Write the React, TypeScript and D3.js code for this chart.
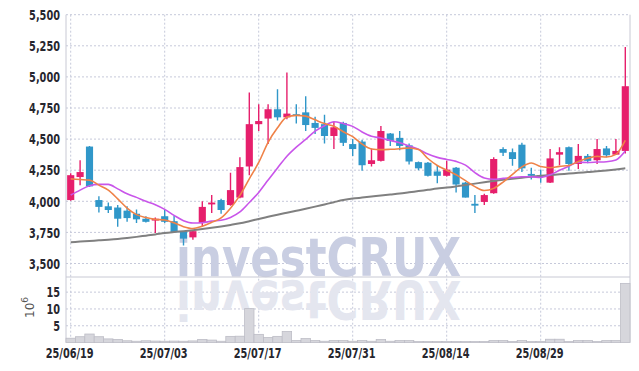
import React from "react"
import * as d3 from "d3"

const dates = [
  "25/06/19", "25/06/20", "25/06/23", "25/06/24", "25/06/25", "25/06/26", "25/06/27", "25/06/30", "25/07/01", "25/07/02",
  "25/07/03", "25/07/04", "25/07/07", "25/07/08", "25/07/09", "25/07/10", "25/07/11", "25/07/14", "25/07/15", "25/07/16",
  "25/07/17", "25/07/18", "25/07/21", "25/07/22", "25/07/23", "25/07/24", "25/07/25", "25/07/28", "25/07/29", "25/07/30",
  "25/07/31", "25/08/01", "25/08/04", "25/08/05", "25/08/06", "25/08/07", "25/08/08", "25/08/11", "25/08/12", "25/08/13",
  "25/08/14", "25/08/18", "25/08/19", "25/08/20", "25/08/21", "25/08/22", "25/08/25", "25/08/26", "25/08/27", "25/08/28",
  "25/08/29", "25/09/01", "25/09/02", "25/09/03", "25/09/04", "25/09/05", "25/09/08", "25/09/09", "25/09/10", "25/09/11"
]

const opens = [
  4010, 4195, 4440, 4010, 3960, 3950, 3925, 3900, 3860, 3845,
  3880, 3840, 3760, 3710, 3825, 3975, 4010, 3970, 4030, 4280,
  4620, 4665, 4740, 4675, 4700, 4715, 4630, 4620, 4525, 4630,
  4460, 4480, 4300, 4325, 4545, 4510, 4450, 4315, 4310, 4240,
  4205, 4270, 4150, 3980, 3995, 4065, 4420, 4395, 4455, 4220,
  4210, 4150, 4375, 4435, 4300, 4365, 4330, 4425, 4375, 4405
]
const highs = [
  4225, 4330, 4445, 4040, 3990, 3970, 3960, 3935, 3880, 3870,
  3930, 3885, 3760, 3770, 4000, 4050, 4020, 4230, 4355, 4875,
  4780, 4780, 4900, 5035, 4780, 4845, 4680, 4695, 4640, 4640,
  4500, 4495, 4425, 4605, 4550, 4565, 4465, 4320, 4315, 4290,
  4325, 4275, 4155, 4050, 4060, 4355, 4435, 4425, 4470, 4270,
  4255, 4420, 4435, 4440, 4460, 4380, 4500, 4445, 4500, 5240
]
const lows = [
  4005, 4130, 4115, 3910, 3905, 3795, 3835, 3825, 3830, 3745,
  3825, 3745, 3645, 3690, 3800, 3905, 3900, 3965, 4025, 4210,
  4565, 4460, 4650, 4660, 4625, 4565, 4540, 4465, 4420, 4445,
  4365, 4245, 4280, 4320, 4445, 4410, 4295, 4250, 4200, 4145,
  4200, 4070, 4030, 3905, 3970, 4060, 4365, 4285, 4235, 4175,
  4150, 4148, 4290, 4245, 4260, 4305, 4300, 4355, 4375, 4385
]
const closes = [
  4210, 4235, 4120, 3955, 3930, 3860, 3865, 3855, 3835, 3860,
  3835, 3750, 3700, 3760, 3955, 3990, 3930, 4090, 4275, 4620,
  4645, 4740, 4675, 4705, 4690, 4613, 4590, 4525, 4595, 4470,
  4420, 4290, 4330, 4565, 4485, 4445, 4320, 4265, 4205, 4205,
  4255, 4135, 4030, 3965, 4050, 4340, 4390, 4340, 4265, 4205,
  4195, 4345, 4395, 4300, 4365, 4325, 4420, 4370, 4405, 4925
]
// volume in millions
const volumes = [
  1.3, 1.75, 2.55, 1.75, 1.1, 0.95, 0.55, 0.4, 0.55, 0.45,
  0.4, 0.45, 0.4, 0.5, 0.95, 0.75, 0.4, 1.85, 1.9, 10.1,
  2.45, 1.5, 1.85, 3.3, 0.6, 1.2, 0.6, 0.4, 0.6, 0.6,
  0.4, 0.6, 0.4, 0.9, 0.4, 0.6, 0.6, 0.3, 0.3, 0.3,
  0.3, 0.3, 0.3, 0.3, 0.3, 0.6, 0.6, 0.3, 0.6, 0.3,
  0.3, 1.0, 1.0, 0.3, 0.6, 0.6, 0.3, 0.6, 0.6, 17.6
]
// closes before the visible window, used for the short averages
const priorCloses = [3835, 3770, 3845, 3930, 4220, 4260, 4145, 4155, 4130]
// 60 day average
const ma60 = [
  3671, 3676, 3681, 3686, 3691, 3697, 3705, 3714, 3724, 3734,
  3745, 3753, 3760, 3768, 3777, 3787, 3798, 3810, 3823, 3840,
  3858, 3875, 3892, 3908, 3924, 3940, 3957, 3975, 3993, 4010,
  4022, 4030, 4038, 4046, 4054, 4062, 4072, 4082, 4092, 4102,
  4110, 4120, 4131, 4142, 4153, 4163, 4173, 4182, 4190, 4198,
  4205, 4211, 4217, 4223, 4229, 4235, 4241, 4248, 4256, 4265
]
const priceTicks = [3500, 3750, 4000, 4250, 4500, 4750, 5000, 5250, 5500]
const volumeTicks = [5, 10, 15]

const UP = "#e61f6c"
const DOWN = "#3097c9"
const GRID = "#c6c9da"
const AXIS_FONT = "'DejaVu Sans Condensed', 'DejaVu Sans', sans-serif"

function movingAverage(n: number) {
  const all = priorCloses.concat(closes)
  const off = priorCloses.length
  return closes.map((_, i) => d3.mean(all.slice(i + off - n + 1, i + off + 1)) as number)
}

// narrow label: condensed font squeezed horizontally
function Label(props: { x: number; y: number; anchor: string; children: any }) {
  return (
    <text transform={`translate(${props.x},${props.y}) scale(0.75,1)`} textAnchor={props.anchor}>
      {props.children}
    </text>
  )
}

export default function App() {
  const width = 639
  const height = 371
  const left = 66
  const right = 630
  const top = 14.7
  const split = 277
  const bottom = 342.6

  const x = d3.scaleBand<number>().domain(d3.range(dates.length)).range([left, right]).padding(0)
  const bw = x.bandwidth()
  const cx = (i: number) => (x(i) as number) + bw / 2
  const y = d3.scaleLinear().domain([3500, 5500]).range([263.5, top])
  const yv = d3.scaleLinear().domain([0, 19.5]).range([bottom, split])

  const line = (vals: number[]) =>
    d3.line<number>().x((_, i) => cx(i)).y(d => y(d)).curve(d3.curveMonotoneX)(vals) as string

  const ma5 = movingAverage(5)
  const ma10 = movingAverage(10)
  const tickIdx = d3.range(0, dates.length, 10)
  const candleW = bw * 0.76

  return (
    <svg width={width} height={height} style={{ position: "absolute", left: 0, top: 0, background: "#fff" }}>
      <defs>
        <clipPath id="price-clip">
          <rect x={left} y={top - 1} width={right - left} height={split - top + 1} />
        </clipPath>
      </defs>

      {/* grid */}
      {priceTicks.map(t => (
        <line key={t} x1={left} x2={right} y1={y(t)} y2={y(t)} stroke={GRID} strokeDasharray="2,2" />
      ))}
      {volumeTicks.map(t => (
        <line key={t} x1={left} x2={right} y1={yv(t)} y2={yv(t)} stroke={GRID} strokeDasharray="2,2" />
      ))}
      {tickIdx.map(i => (
        <line key={i} x1={cx(i)} x2={cx(i)} y1={top} y2={bottom} stroke={GRID} strokeDasharray="2,2" />
      ))}

      {/* watermark */}
      <g fontFamily="'DejaVu Sans', sans-serif" fontWeight="bold" fontSize={54}>
        <text x={176} y={276} textLength={285} lengthAdjust="spacingAndGlyphs" fill="#c9cee2">investCRUX</text>
        <text x={176} y={276} textLength={285} lengthAdjust="spacingAndGlyphs" fill="#e4e6ef"
          transform="translate(0,557) scale(1,-1)">investCRUX</text>
      </g>

      {/* frame */}
      <line x1={left} x2={left} y1={top} y2={bottom} stroke="#c8c9d4" />
      <line x1={right} x2={right} y1={top} y2={bottom} stroke="#c8c9d4" />
      <line x1={left} x2={right} y1={split} y2={split} stroke="#c8c9d4" />

      {/* volume */}
      {volumes.map((v, i) => (
        <rect key={i} x={x(i)} y={yv(v)} width={bw} height={bottom - yv(v)} fill="#d6d6dc" stroke="#bdbdc6" strokeWidth={0.8} />
      ))}

      {/* candles */}
      <g clipPath="url(#price-clip)">
        {closes.map((c, i) => {
          const o = opens[i]
          const col = c >= o ? UP : DOWN
          const yt = y(Math.max(o, c))
          const h = Math.max(1.5, Math.abs(y(o) - y(c)))
          return (
            <g key={i}>
              <line x1={cx(i)} x2={cx(i)} y1={y(highs[i])} y2={y(lows[i])} stroke={col} strokeWidth={1.4} />
              <rect x={cx(i) - candleW / 2} y={yt} width={candleW} height={h} fill={col} />
            </g>
          )
        })}
        <path d={line(ma60)} fill="none" stroke="#808080" strokeWidth={2} />
        <path d={line(ma10)} fill="none" stroke="#c955ea" strokeWidth={1.6} />
        <path d={line(ma5)} fill="none" stroke="#ef8248" strokeWidth={1.6} />
      </g>

      {/* axis labels */}
      <g fontFamily={AXIS_FONT} fontWeight="bold" fontSize={14.5} fill="#26262e">
        {priceTicks.map(t => (
          <Label key={t} x={60} y={y(t) + 5.2} anchor="end">{d3.format(",")(t)}</Label>
        ))}
        {volumeTicks.map(t => (
          <Label key={t} x={60} y={yv(t) + 5.2} anchor="end">{t}</Label>
        ))}
        {tickIdx.map(i => (
          <Label key={i} x={cx(i) - 1} y={358} anchor="middle">{dates[i]}</Label>
        ))}
      </g>
      <text transform="translate(34,318) rotate(-90)" fontFamily="'DejaVu Sans', sans-serif" fontSize={12} fill="#555">
        10<tspan dy={-6} fontSize={9}>6</tspan>
      </text>
    </svg>
  )
}
